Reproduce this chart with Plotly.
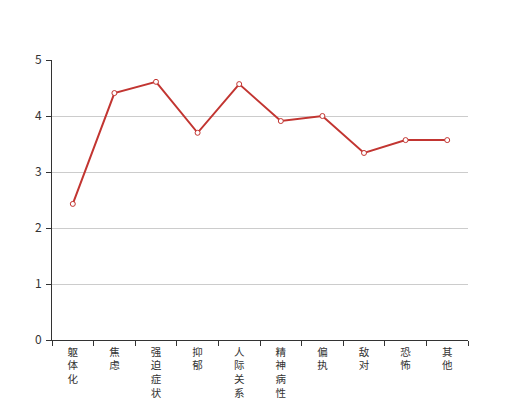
import plotly.graph_objects as go

categories = ["躯体化", "焦虑", "强迫症状", "抑郁", "人际关系敏感", "精神病性", "偏执", "敌对", "恐怖", "其他"]
values = [2.43, 4.41, 4.61, 3.70, 4.57, 3.91, 4.00, 3.34, 3.57, 3.57]
y_ticks = [0, 1, 2, 3, 4, 5]

tick_text = ["<br>".join(list(c)) for c in categories]

fig = go.Figure()
fig.add_trace(go.Scatter(
    x=categories, y=values, mode="lines+markers",
    line=dict(color="#c23531", width=2),
    marker=dict(symbol="circle", size=5, color="#ffffff",
                line=dict(color="#c23531", width=1)),
    hoverinfo="x+y", showlegend=False,
))

fig.update_layout(
    width=512, height=392,
    margin=dict(l=44, r=52, t=52, b=60),
    paper_bgcolor="#ffffff", plot_bgcolor="#ffffff",
    font=dict(family="Noto Sans CJK SC, sans-serif", size=12, color="#333333"),
)
fig.update_xaxes(
    type="category", range=[-0.5, 9.5], automargin=False,
    tickmode="array", tickvals=categories, ticktext=tick_text,
    tickson="boundaries", ticks="outside", ticklen=5, tickcolor="#333333",
    showline=True, linecolor="#333333", linewidth=1,
    showgrid=False, tickangle=0, tickfont=dict(size=10.5, color="#333333"),
    ticklabelstandoff=2,
)
fig.update_yaxes(
    range=[0, 5], tickvals=y_ticks, automargin=False,
    ticks="outside", ticklen=5, tickcolor="#333333",
    showline=True, linecolor="#333333", linewidth=1,
    showgrid=True, gridcolor="#cccccc", gridwidth=1,
    zeroline=False, tickfont=dict(size=12, color="#333333"),
    ticklabelstandoff=2,
)

fig.write_html("out.html")
